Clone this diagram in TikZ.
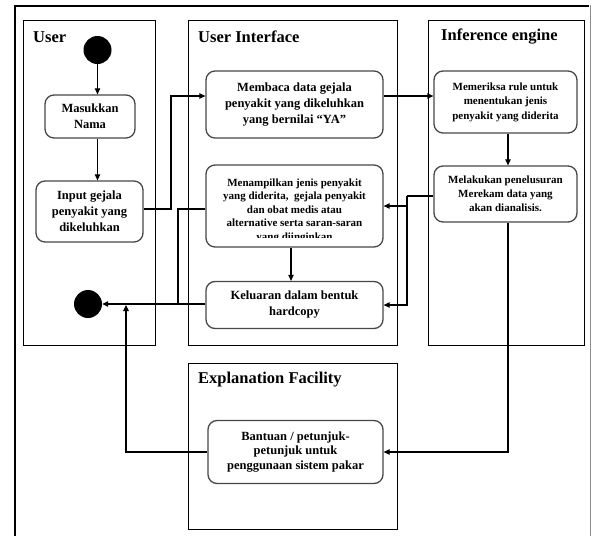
\documentclass[tikz,border=0pt]{standalone}
\usepackage{fontspec}
\setmainfont{Liberation Serif}
\usetikzlibrary{arrows.meta}
\begin{document}
\begin{tikzpicture}[x=1pt,y=-1pt,
  lane/.style={draw=black, line width=0.9pt},
  lanetitle/.style={anchor=west, inner sep=0pt, font=\bfseries\fontsize{16.5}{19}\selectfont},
  actbox/.style={draw=black!72, line width=1.3pt, rounded corners=9pt, fill=white,
    align=center, inner sep=0pt},
  bigtxt/.style={font=\bfseries\fontsize{12.5}{16}\selectfont},
  smalltxt/.style={font=\bfseries\fontsize{11}{14.5}\selectfont},
  dot/.style={circle, fill=black, minimum size=28pt, inner sep=0pt},
  link/.style={line width=1.1pt, draw=black},
  arr/.style={link, -{Triangle[length=6pt,width=5.5pt]}}
]
\useasboundingbox (0,0) rectangle (592,536);

% outer frame
\draw[line width=2.6pt] (15,536) -- (15,6) -- (589,6);
\draw[black!45, line width=0.8pt] (590.5,5) -- (590.5,536);

% swimlanes
\draw[lane] (23,20) rectangle (155.5,345);
\draw[lane] (188,20) rectangle (397,345);
\draw[lane] (428,20) rectangle (584.5,345);
\draw[lane] (188,363) rectangle (397,529.5);

\node[lanetitle] (tuser) at (33,37) {User};
\node[lanetitle] (tui) at (198,37) {User Interface};
\node[lanetitle] (tie) at (441,37) {Inference engine};
\node[lanetitle] (tef) at (198,380) {Explanation Facility};

% start / end
\node[dot] (start) at (97.5,50) {};
\node[dot] (end) at (88,304) {};

% activities
\node[actbox, bigtxt, minimum width=90pt, minimum height=43pt] (nama) at (90,116.5)
  {Masukkan\\Nama};
\node[actbox, bigtxt, minimum width=107pt, minimum height=61pt] (input) at (89.5,211.5)
  {Input gejala\\penyakit yang\\dikeluhkan};
\node[actbox, bigtxt, minimum width=177pt, minimum height=67pt] (read) at (294.5,104.5)
  {Membaca data gejala\\penyakit yang dikeluhkan\\yang bernilai “YA”};
\node[actbox, minimum width=177pt, minimum height=82pt] (show) at (294.5,206) {};
% the text box is shorter than its frame, so the last line is cut
\begin{scope}
  \clip (207,166) rectangle (382,237.5);
  \node[align=center, inner sep=0pt, font=\bfseries\fontsize{11}{13.5}\selectfont]
    (showtxt) at (294.5,210.5)
    {Menampilkan jenis penyakit\\yang diderita,\ \ gejala penyakit\\dan obat medis atau\\alternative serta saran-saran\\yang diinginkan};
\end{scope}
\node[actbox, bigtxt, minimum width=177pt, minimum height=47pt] (out) at (294.5,305)
  {Keluaran dalam bentuk\\hardcopy};
\node[actbox, smalltxt, minimum width=143pt, minimum height=62pt] (check) at (505.5,102)
  {Memeriksa rule untuk\\menentukan jenis\\penyakit yang diderita};
\node[actbox, font=\bfseries\fontsize{11}{14}\selectfont, minimum width=143pt, minimum height=56pt] (trace) at (505.5,194)
  {Melakukan penelusuran\\Merekam data yang\\akan dianalisis.};
\node[actbox, font=\bfseries\fontsize{12.5}{14.5}\selectfont, minimum width=175pt, minimum height=63pt] (help) at (295.5,452)
  {Bantuan / petunjuk-\\petunjuk untuk\\penggunaan sistem pakar};

% junction points
\coordinate (j1) at (171,96);
\coordinate (bus) at (407,196);
\coordinate (vx) at (291,0);
\coordinate (mj) at (178,304);
\coordinate (mk) at (126,305);
\coordinate (tx) at (508,0);

% connectors
\draw[arr] (start.south) -- (start.south |- nama.north);
\draw[arr] (nama.south -| start) -- (input.north -| start);
\draw[arr] (input.east |- 0,209) -- (j1 |- 0,209) -- (j1) -- (read.west |- j1);
\draw[arr] (read.east |- j1) -- (check.west |- j1);
\draw[arr] (check.south -| tx) -- (trace.north -| tx);
\draw[link] (trace.west |- bus) -- (bus);
\draw[arr] (bus) -- (bus |- show.east) -- (show.east);
\draw[arr] (bus) -- (bus |- out.east) -- (out.east);
\draw[arr] (show.south -| vx) -- (out.north -| vx);
\draw[link] (show.west |- 0,209) -| (mj);
\draw[arr] (out.west |- end) -- (end);
\draw[arr] (trace.south -| tx) |- (help.east);
\draw[arr] (help.west) -| (mk);
\end{tikzpicture}
\end{document}
